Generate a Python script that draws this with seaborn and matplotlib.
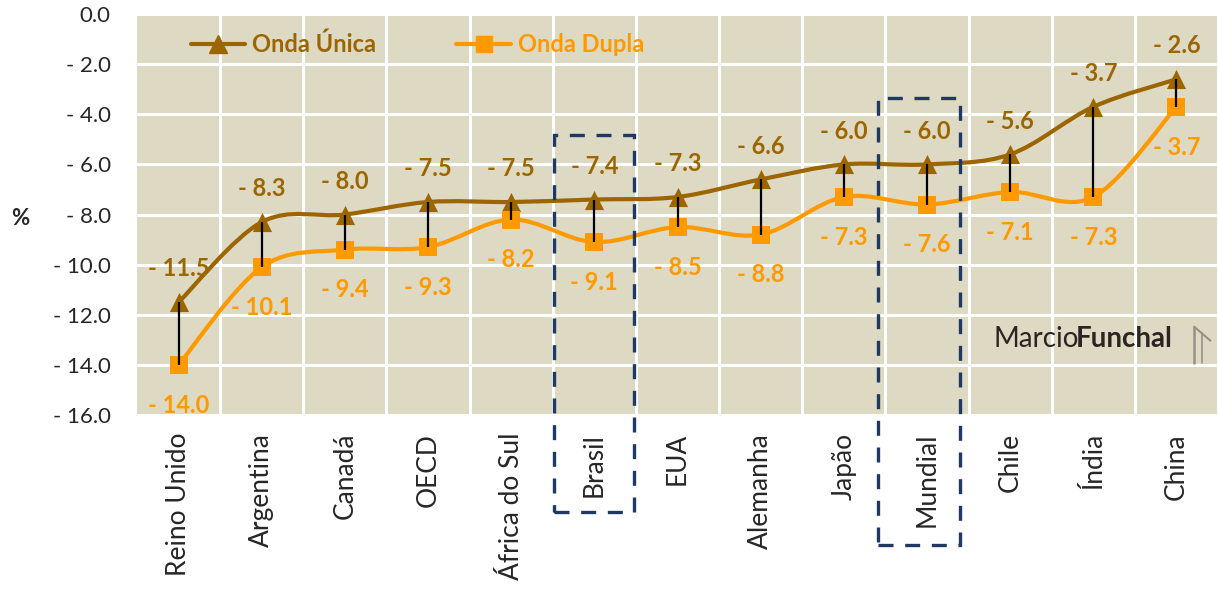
import numpy as np
import pandas as pd
import matplotlib
matplotlib.use("Agg")
import matplotlib.pyplot as plt
import seaborn as sns
from matplotlib.path import Path
from matplotlib.patches import PathPatch, Rectangle
from matplotlib.lines import Line2D
from matplotlib.transforms import blended_transform_factory

paises = ["Reino Unido", "Argentina", "Canadá", "OECD", "África do Sul", "Brasil",
          "EUA", "Alemanha", "Japão", "Mundial", "Chile", "Índia", "China"]
onda_unica = [-11.5, -8.3, -8.0, -7.5, -7.5, -7.4, -7.3, -6.6, -6.0, -6.0, -5.6, -3.7, -2.6]
onda_dupla = [-14.0, -10.1, -9.4, -9.3, -8.2, -9.1, -8.5, -8.8, -7.3, -7.6, -7.1, -7.3, -3.7]
y_ticks = [0, -2, -4, -6, -8, -10, -12, -14, -16]
destaques = ["Brasil", "Mundial"]

cor_unica = "#9C6500"
cor_dupla = "#FF9900"
cor_box = "#1F3864"

sns.set_theme(style="whitegrid", rc={
    "axes.facecolor": "#DDD9C3",
    "grid.color": "white",
    "grid.linewidth": 2.2,
    "axes.edgecolor": "#DDD9C3",
})
plt.rcParams["font.family"] = ["Lato", "DejaVu Sans"]

df = pd.DataFrame({"pais": paises, "x": np.arange(len(paises)),
                   "unica": onda_unica, "dupla": onda_dupla})


def fmt(v):
    if v < 0:
        return "- " + f"{abs(v):.1f}"
    return f"{v:.1f}"


def smooth_path(xs, ys):
    # bezier smoothing like excel's "smoothed line"
    pts = np.column_stack([xs, ys]).astype(float)
    n = len(pts)
    verts = [pts[0]]
    codes = [Path.MOVETO]
    for i in range(n - 1):
        p0 = pts[i - 1] if i > 0 else pts[i]
        p1 = pts[i]
        p2 = pts[i + 1]
        p3 = pts[i + 2] if i + 2 < n else pts[i + 1]
        verts += [p1 + (p2 - p0) / 6, p2 - (p3 - p1) / 6, p2]
        codes += [Path.CURVE4] * 3
    return Path(verts, codes)


fig = plt.figure(figsize=(12.18, 5.91), dpi=100)
ax = fig.add_axes([0.1125, 0.298, 0.8875, 0.678])

ax.add_patch(PathPatch(smooth_path(df["x"], df["unica"]), fill=False,
                       edgecolor=cor_unica, lw=3, zorder=3, capstyle="round"))
ax.add_patch(PathPatch(smooth_path(df["x"], df["dupla"]), fill=False,
                       edgecolor=cor_dupla, lw=3, zorder=3, capstyle="round"))

sns.scatterplot(data=df, x="x", y="unica", marker="^", s=190, color=cor_unica,
                edgecolor=cor_unica, linewidth=0, ax=ax, zorder=4)
sns.scatterplot(data=df, x="x", y="dupla", marker="s", s=150, color=cor_dupla,
                edgecolor=cor_dupla, linewidth=0, ax=ax, zorder=4)

# linhas de diferença
ax.vlines(df["x"], df["dupla"], df["unica"], color="black", lw=1.6, zorder=5)

for x, u, d in zip(df["x"], df["unica"], df["dupla"]):
    ax.annotate(fmt(u), (x, u), xytext=(0, 24), textcoords="offset points",
                ha="center", va="center", fontsize=17, fontweight="bold", color=cor_unica)
    ax.annotate(fmt(d), (x, d), xytext=(0, -29), textcoords="offset points",
                ha="center", va="center", fontsize=17, fontweight="bold", color=cor_dupla)

ax.set_xlim(-0.5, len(paises) - 0.5)
ax.set_ylim(-16, 0)
ax.set_yticks(y_ticks)
ax.set_yticklabels([fmt(v) for v in y_ticks], fontsize=16)
ax.set_xticks(np.arange(len(paises)) + 0.5, minor=False)
ax.set_xticklabels([])
ax.set_xticks(np.arange(len(paises)), minor=True)
ax.set_xticklabels(paises, minor=True, rotation=90, fontsize=19)
ax.tick_params(axis="x", which="both", length=0, pad=13)
ax.tick_params(axis="y", length=0, pad=19)
ax.grid(True, which="major")
ax.grid(False, which="minor")
ax.set_xlabel("")
ax.set_ylabel("%", rotation=0, fontsize=16, fontweight="bold", va="center", ha="center")
ax.yaxis.set_label_coords(-0.108, 0.49)
for s in ax.spines.values():
    s.set_visible(False)

handles = [Line2D([], [], color=cor_unica, lw=3, marker="^", markersize=13),
           Line2D([], [], color=cor_dupla, lw=3, marker="s", markersize=12)]
leg = ax.legend(handles, ["Onda Única", "Onda Dupla"], loc="center left",
                bbox_to_anchor=(0.03, 0.925), ncol=2, frameon=False,
                prop={"size": 17, "weight": "bold"}, labelcolor="linecolor",
                handlelength=2.3, handletextpad=0.3, columnspacing=3.4)

# marca d'água
t1 = ax.text(0.792, 0.19, "Marcio", transform=ax.transAxes, ha="left", va="center",
             fontsize=20, color="#2B2522")
ax.annotate("Funchal", xy=(1, 0.5), xycoords=t1, xytext=(-2, 0),
            textcoords="offset points", ha="left", va="center",
            fontsize=20, fontweight="bold", color="#2B2522")
ax.plot([0.978, 0.978], [0.13, 0.22], transform=ax.transAxes, color="#9A8F85", lw=1.8)
ax.plot([0.978, 0.993], [0.22, 0.185], transform=ax.transAxes, color="#9A8F85", lw=1.5)
ax.plot([0.985, 0.985], [0.13, 0.205], transform=ax.transAxes, color="#9A8F85", lw=1.2)

# caixas tracejadas nos destaques
tr = blended_transform_factory(ax.transData, fig.transFigure)
for nome, dx0, dx1, y0, y1 in [("Brasil", -0.48, 0.48, 512, 135),
                               ("Mundial", -0.59, 0.40, 545, 98)]:
    i = paises.index(nome)
    ax.add_patch(Rectangle((i + dx0, 1 - y0 / 591), dx1 - dx0, (y0 - y1) / 591,
                           transform=tr, fill=False, edgecolor=cor_box, lw=2.4,
                           ls=(0, (4.5, 3.5)), clip_on=False, zorder=6))

fig.savefig("out.png", dpi=100)
